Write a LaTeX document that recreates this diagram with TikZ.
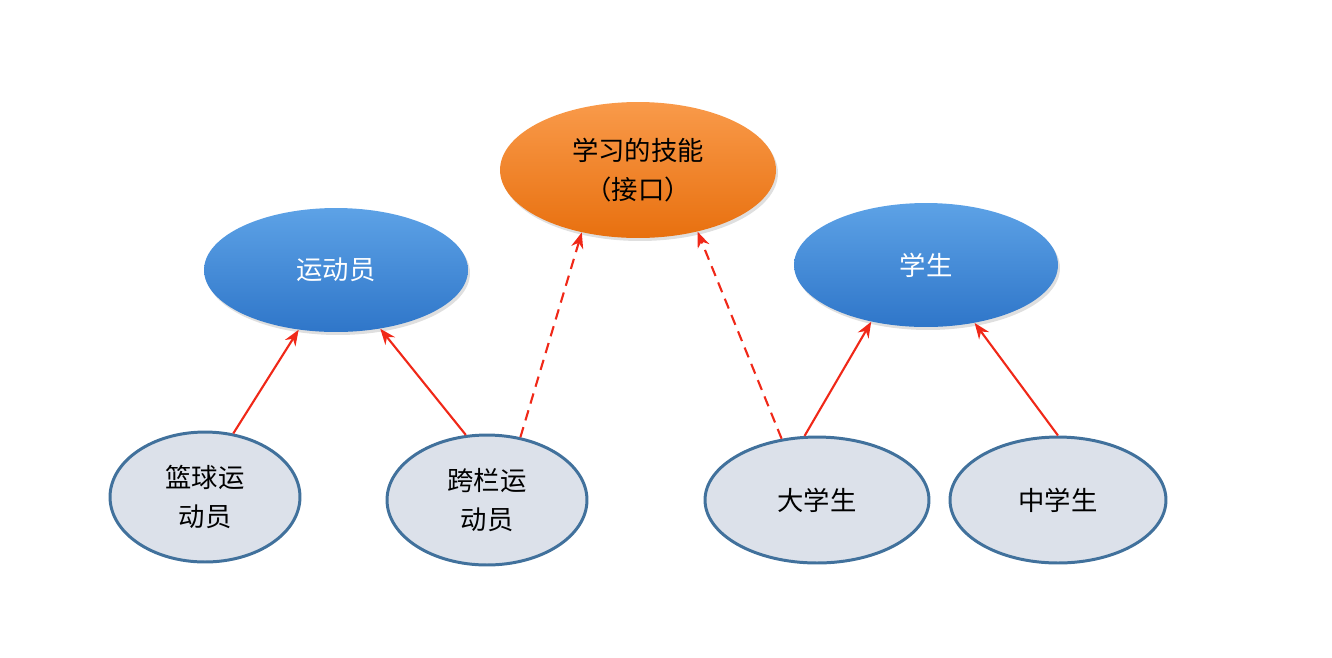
\documentclass[tikz,border=0pt]{standalone}
\usepackage{fontspec}
\setmainfont{Noto Sans CJK SC}
\usetikzlibrary{shapes.geometric,arrows.meta,shadows}
\definecolor{bluetop}{HTML}{5DA2E6}
\definecolor{bluebot}{HTML}{2F76C9}
\definecolor{orgtop}{HTML}{F99A4A}
\definecolor{orgbot}{HTML}{E8700F}
\definecolor{lightfill}{HTML}{DCE1EA}
\definecolor{lightdraw}{HTML}{41719C}
\definecolor{arrred}{HTML}{F02818}
\tikzset{
  bigell/.style={ellipse,inner sep=0pt,top color=bluetop,bottom color=bluebot,text=white,font=\fontsize{15}{18}\selectfont,drop shadow={opacity=0.25,shadow xshift=0.04cm,shadow yshift=-0.06cm}},
  iface/.style={bigell,top color=orgtop,bottom color=orgbot,text=black,align=center,font=\fontsize{15}{22}\selectfont},
  smallell/.style={ellipse,inner sep=0pt,fill=lightfill,draw=lightdraw,line width=1.7pt,align=center,font=\fontsize{15}{22}\selectfont},
  arr/.style={-{Stealth[length=9pt,width=7pt]},arrred,line width=1.2pt},
  darr/.style={arr,dashed,dash pattern=on 6pt off 4pt}
}
\begin{document}
\begin{tikzpicture}[x=0.02cm,y=-0.02cm]
\useasboundingbox (0,0) rectangle (1332,657);
\node[iface,minimum width=276\pgflinewidth*0+5.52cm,minimum height=2.72cm] (jn) at (638,170) {学习的技能\\（接口）};
\node[bigell,minimum width=5.28cm,minimum height=2.48cm] (ydy) at (336,270) {运动员};
\node[bigell,minimum width=5.28cm,minimum height=2.48cm] (xs) at (926,265) {学生};
\node[smallell,minimum width=3.8cm,minimum height=2.6cm] (lq) at (205,497) {篮球运\\动员};
\node[smallell,minimum width=4.0cm,minimum height=2.6cm] (kl) at (487,500) {跨栏运\\动员};
\node[smallell,minimum width=4.48cm,minimum height=2.52cm] (dxs) at (817,500) {大学生};
\node[smallell,minimum width=4.32cm,minimum height=2.52cm] (zxs) at (1058,500) {中学生};
\draw[arr] (lq.66) -- (ydy.238);
\draw[arr] (kl.108) -- (ydy.307);
\draw[darr] (kl.62) -- (jn.228);
\draw[darr] (dxs.120) -- (jn.314);
\draw[arr] (dxs.101) -- (xs.226);
\draw[arr] (zxs.90) -- (xs.310);
\end{tikzpicture}
\end{document}
